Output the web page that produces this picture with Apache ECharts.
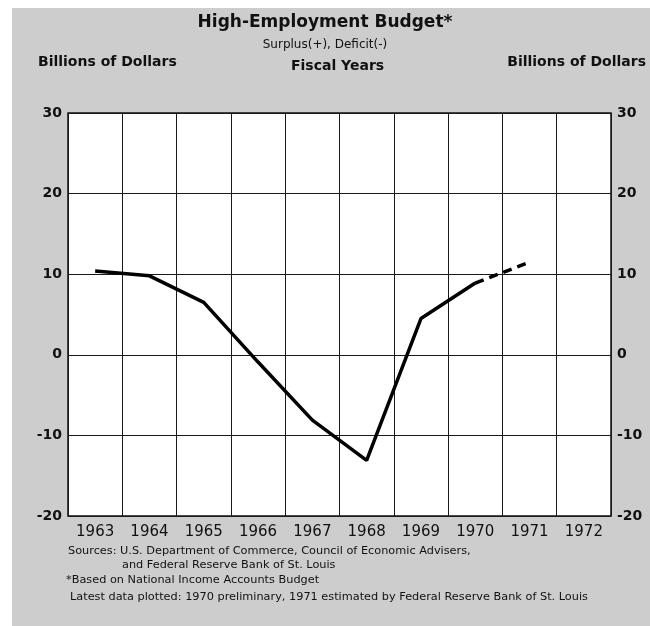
<!DOCTYPE html>
<html>
<head>
<meta charset="utf-8">
<script src="https://cdn.jsdelivr.net/npm/echarts@6/dist/echarts.min.js"></script>
<style>
html,body{margin:0;padding:0;background:#ffffff;}
#chart{width:650px;height:626px;}
</style>
</head>
<body>
<div id="chart"></div>
<script>
const years = ['1963','1964','1965','1966','1967','1968','1969','1970','1971','1972'];
const actualValues = [10.4, 9.8, 6.5, -0.9, -8.1, -13.1, 4.5, 8.9, null, null];
const estimatedValues = [null, null, null, null, null, null, null, 8.9, 11.5, null];
const yTicks = [-20, -10, 0, 10, 20, 30];

const titleText = 'High-Employment Budget*';
const subtitleText = 'Surplus(+), Deficit(-)';
const leftAxisName = 'Billions of Dollars';
const rightAxisName = 'Billions of Dollars';
const xAxisName = 'Fiscal Years';
const footnotes = [
  'Sources: U.S. Department of Commerce, Council of Economic Advisers,',
  'and Federal Reserve Bank of St. Louis',
  '*Based on National Income Accounts Budget',
  'Latest data plotted: 1970 preliminary, 1971 estimated by Federal Reserve Bank of St. Louis'
];

const FONT = '"DejaVu Sans", "Liberation Sans", sans-serif';
const chart = echarts.init(document.getElementById('chart'));

const yAxisCommon = {
  type: 'value', min: yTicks[0], max: yTicks[yTicks.length - 1], interval: 10,
  axisLine: {show: false}, axisTick: {show: false},
  splitLine: {show: true, lineStyle: {color: '#1a1a1a', width: 1}},
  axisLabel: {color: '#111', fontFamily: FONT, fontSize: 14, fontWeight: 'bold', margin: 6}
};

chart.setOption({
  backgroundColor: '#ffffff',
  animation: false,
  grid: {left: 68, right: 39, top: 113, bottom: 110, show: true, backgroundColor: '#ffffff', borderColor: '#111', borderWidth: 1.5},
  xAxis: {
    type: 'category', data: years, boundaryGap: true,
    axisLine: {show: false}, axisTick: {show: false},
    splitLine: {show: true, interval: 0, lineStyle: {color: '#1a1a1a', width: 1}},
    axisLabel: {color: '#111', fontFamily: FONT, fontSize: 15, margin: 9, interval: 0}
  },
  yAxis: [
    Object.assign({}, yAxisCommon, {position: 'left'}),
    Object.assign({}, yAxisCommon, {position: 'right', splitLine: {show: false}})
  ],
  series: [
    {type: 'line', data: actualValues, showSymbol: false, connectNulls: false,
     lineStyle: {color: '#000', width: 3.5}, z: 5},
    {type: 'line', data: estimatedValues, showSymbol: false, connectNulls: false,
     lineStyle: {color: '#000', width: 3.5, type: [9, 6]}, z: 5}
  ],
  graphic: [
    {type: 'rect', left: 12, top: 8, z: -10, silent: true, shape: {x: 0, y: 0, width: 640, height: 620}, style: {fill: '#cdcdcd'}},
    {type: 'text', left: 'center', top: 14, style: {text: titleText, font: 'bold 17px ' + FONT, fill: '#111'}},
    {type: 'text', left: 'center', top: 39, style: {text: subtitleText, font: '12px ' + FONT, fill: '#111'}},
    {type: 'text', left: 38, top: 55, style: {text: leftAxisName, font: 'bold 14px ' + FONT, fill: '#111'}},
    {type: 'text', left: 291, top: 59, style: {text: xAxisName, font: 'bold 14px ' + FONT, fill: '#111'}},
    {type: 'text', right: 4, top: 55, style: {text: rightAxisName, font: 'bold 14px ' + FONT, fill: '#111'}},
    {type: 'text', left: 68, top: 546, style: {text: footnotes[0], font: '11.3px ' + FONT, fill: '#111'}},
    {type: 'text', left: 122, top: 560, style: {text: footnotes[1], font: '11.3px ' + FONT, fill: '#111'}},
    {type: 'text', left: 66, top: 575, style: {text: footnotes[2], font: '11.3px ' + FONT, fill: '#111'}},
    {type: 'text', left: 70, top: 592, style: {text: footnotes[3], font: '11.3px ' + FONT, fill: '#111'}}
  ]
});
</script>
</body>
</html>
